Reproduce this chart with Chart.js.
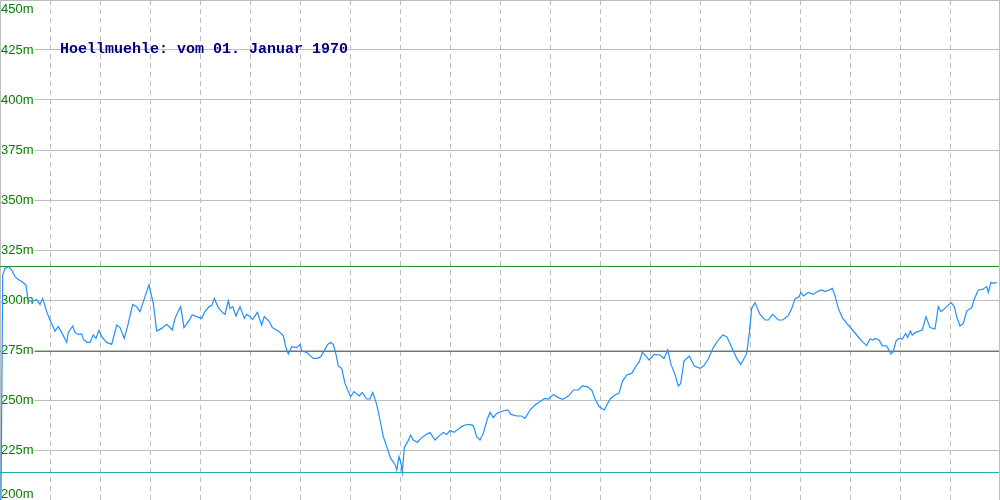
<!DOCTYPE html>
<html>
<head>
<meta charset="utf-8">
<script src="https://cdn.jsdelivr.net/npm/chart.js@4"></script>
<style>
  html, body { margin: 0; padding: 0; background: #fff; }
  #wrap { width: 1000px; height: 500px; }
</style>
</head>
<body>
<div id="wrap"><canvas id="pegel" width="1000" height="500"></canvas></div>
<script>
// values
var titleText = 'Hoellmuehle: vom 01. Januar 1970';
var yTicks = [200, 225, 250, 275, 300, 325, 350, 375, 400, 425, 450];
var maxHeight = 316.75;
var minHeight = 213.75;
var meanHeight = 274.25;

// position along the time axis (0..1000) and water level in m
var dayPos = [1, 2.7, 5, 8.3, 11.7, 15, 18.3, 21.7, 26, 28, 31.7, 36.7, 40, 42.7, 46.7, 50, 55, 58.3, 61.7, 66.7,
  68.3, 72.7, 75, 78.3, 81.7, 83.3, 86.7, 90, 93.3, 96, 99, 101.7, 106.7, 111.7, 116.7, 120, 124.3, 128.3, 132.7, 136.7,
  140, 145, 149, 153.3, 156.7, 161.7, 166.7, 172.3, 175, 178.3, 180.7, 184, 188.3, 192.3, 196.7, 201.7, 205, 209, 211.7, 214.3,
  218.3, 221.7, 225, 228.3, 230, 232.7, 236, 240, 244.3, 246.7, 250, 252.7, 257.3, 261.7, 264.3, 269.3, 272.3, 278.3, 283.3, 285.7,
  288.3, 291.7, 296.7, 300, 301.7, 306.7, 313.3, 317.7, 321, 323.3, 327.7, 330.7, 333.3, 336, 338.3, 341.7, 345, 348.3, 350.7, 354,
  359.3, 362.3, 366.7, 370, 372.7, 376.7, 380, 383.3, 387.3, 390.7, 395, 396.7, 399, 401, 402.3, 404.3, 407.7, 410.7, 413.3, 417.3,
  421.7, 426, 430, 435, 438.3, 443.3, 446.7, 450, 454, 461.7, 465, 469.3, 473.3, 476.7, 480, 483.3, 487.3, 490, 493.3, 496.7,
  499, 503.3, 507.7, 511, 516.7, 521.7, 525, 530, 535, 540, 545, 548.3, 553.3, 558.3, 562.7, 569, 573.3, 578.3, 582.3, 586.7,
  591.7, 595, 599, 604.3, 610, 615, 619, 622.3, 626.7, 631.7, 636.7, 639.3, 642.3, 645.7, 649, 654.3, 660, 664, 667.7, 671,
  675, 678.3, 680.7, 684, 689.3, 694.3, 700, 704, 708.3, 713.3, 718.3, 722.7, 726.7, 730, 734, 737.3, 740.7, 743.3, 746.7, 749.3,
  751.7, 755, 760, 765, 768.3, 772.7, 778.3, 782.7, 788.3, 791.7, 795, 799.3, 800.7, 803.3, 808.3, 813.3, 817.3, 821.7, 825, 829,
  832.3, 835, 838.3, 842.3, 846.7, 851.7, 856.7, 862.3, 866.7, 870, 873.3, 875, 879, 882.3, 886.7, 891, 893.3, 896, 899, 902.3,
  905.7, 907.7, 910.3, 912.3, 915.7, 922.3, 926, 930, 935, 938.3, 941, 945.7, 951, 954.3, 956.7, 960, 963.3, 966.7, 971.7, 974.3,
  978.3, 982.3, 986.7, 988.3, 991, 993.3, 996.7];
var heightM = [200, 312.5, 315.8, 316.7, 315, 311.7, 310.3, 309.2, 307.5, 300, 299.2, 300.3, 297.8, 300.8, 294.2, 290, 284.5, 286.7, 283.8, 278.8,
  283.8, 287, 283.8, 282.8, 283, 280.5, 278.8, 278.8, 282.5, 280.8, 284.8, 281.7, 278.8, 277.8, 287.5, 286.2, 280.8, 288.3, 297.8, 296.7,
  294.2, 301.7, 307.5, 298.3, 284.5, 285.8, 287.8, 285, 290.8, 294.5, 296.7, 286.2, 289.2, 292.5, 291.7, 290.8, 294.2, 296.7, 297.2, 300.8,
  296.2, 294.2, 292.8, 299.7, 295.8, 296.7, 292, 296.7, 290.8, 292.8, 291.7, 290.3, 293.8, 287.5, 291.7, 289.2, 286.2, 284.5, 282.2, 276.7,
  273, 276.7, 276.2, 277.8, 274.5, 273.8, 270.8, 270.8, 271.7, 273.8, 277.8, 278.8, 277.8, 272.8, 267, 265.8, 258.3, 254.2, 251.7, 254.2,
  252, 253.8, 250.5, 250.5, 253.8, 247.8, 240, 231.7, 225.8, 220.8, 217.8, 215, 221.7, 218.3, 213.8, 226.3, 229.2, 232.5, 230, 228.8,
  231.2, 232.8, 233.7, 230, 231.7, 233.8, 232.8, 234.7, 233.8, 236.7, 237.5, 237.8, 237.2, 231.7, 230, 233.3, 240.5, 243.8, 241.2, 243.3,
  243.8, 244.5, 245, 242.8, 242, 242, 240.8, 245, 247.5, 249.2, 250.8, 250.5, 252.8, 251.2, 250.3, 252.2, 255, 255, 257, 256.7,
  255, 250.8, 246.7, 245, 250.5, 252.5, 253.3, 259.2, 262.5, 263.3, 267.5, 269.2, 273.8, 272.2, 270, 272.8, 272.5, 270.8, 275, 267.8,
  262.8, 257, 258.3, 269.5, 272, 267, 265.8, 267.2, 270.5, 276.2, 280, 282.5, 281.7, 278.3, 273.8, 270.3, 267.8, 270, 273.3, 283.3,
  295.8, 298.7, 292.8, 290, 290, 292.8, 290, 290, 292.2, 295.8, 300.5, 301.7, 303.8, 302, 303.8, 302.8, 304.2, 305, 304.2, 305,
  305.8, 302.2, 295.8, 291.2, 288.3, 285.5, 282.5, 279.2, 277.2, 280.5, 280, 280.8, 280, 277.2, 277, 273, 274.2, 279.5, 280.8, 280.5,
  283.3, 281.2, 284.5, 282.5, 283.8, 285, 291.7, 286.2, 285.5, 296.7, 294.2, 296.2, 298.7, 296.7, 291.7, 287, 288.3, 294.5, 296.2, 300.5,
  305, 305.3, 306.7, 303.8, 308.8, 308.3, 308.8];

var levelData = dayPos.map(function (x, i) { return { x: x, y: heightM[i] }; });
function flatLine(v) { return [{ x: 0, y: v }, { x: 1000, y: v }]; }

// y labels with white box, drawn right after the mean line so the data goes over them
var labelPlugin = {
    id: 'pegelLabels',
    afterDatasetDraw: function (chart, args) {
        if (args.index !== 3) return;
        var ctx = chart.ctx;
        var yScale = chart.scales.y;
        var area = chart.chartArea;
        ctx.save();
        ctx.font = '13px "Liberation Sans", Arial, sans-serif';
        ctx.textBaseline = 'alphabetic';
        ctx.textAlign = 'left';
        yTicks.forEach(function (v) {
            var py = yScale.getPixelForValue(v);
            var base = Math.min(Math.max(py + 4, area.top + 13), area.bottom - 2);
            var txt = v + 'm';
            var w = ctx.measureText(txt).width;
            ctx.fillStyle = '#ffffff';
            ctx.fillRect(area.left + 1, base - 11, w + 1, 13);
            ctx.fillStyle = '#008000';
            ctx.fillText(txt, area.left + 1, base);
        });
        ctx.restore();
    },
    afterDraw: function (chart) {
        var ctx = chart.ctx;
        var area = chart.chartArea;
        ctx.save();
        // right frame edge
        ctx.strokeStyle = '#bebebe';
        ctx.lineWidth = 1;
        ctx.beginPath();
        ctx.moveTo(area.right - 0.5, area.top);
        ctx.lineTo(area.right - 0.5, area.bottom);
        ctx.stroke();
        // title
        ctx.font = 'bold 15px "Liberation Mono", "Courier New", monospace';
        ctx.fillStyle = '#000080';
        ctx.textBaseline = 'alphabetic';
        ctx.fillText(titleText, area.left + 60, area.top + 53);
        ctx.restore();
    }
};

new Chart(document.getElementById('pegel'), {
    type: 'line',
    data: {
        datasets: [
            { data: levelData, borderColor: '#1e90ff', borderWidth: 1.2, order: 0 },
            { data: flatLine(maxHeight), borderColor: '#1f8f1f', borderWidth: 1, order: 1 },
            { data: flatLine(minHeight), borderColor: '#20b2aa', borderWidth: 1, order: 2 },
            { data: flatLine(meanHeight), borderColor: '#2e9e4e', borderWidth: 1, order: 3 }
        ]
    },
    options: {
        responsive: false,
        animation: false,
        devicePixelRatio: 1,
        layout: { padding: 0, autoPadding: false },
        elements: { point: { radius: 0 }, line: { tension: 0 } },
        plugins: { legend: { display: false }, tooltip: { enabled: false }, title: { display: false } },
        scales: {
            x: {
                type: 'linear', min: 0, max: 1000,
                ticks: { display: false, stepSize: 50 },
                grid: { color: '#bebebe', drawTicks: false, lineWidth: 1 },
                border: { display: true, color: '#bebebe', dash: [5, 4] }
            },
            y: {
                type: 'linear', min: 200, max: 450,
                ticks: { display: false, stepSize: 25 },
                grid: { color: '#bebebe', drawTicks: false, lineWidth: 1 },
                border: { display: true, color: '#bebebe' }
            }
        }
    },
    plugins: [labelPlugin]
});
</script>
</body>
</html>
